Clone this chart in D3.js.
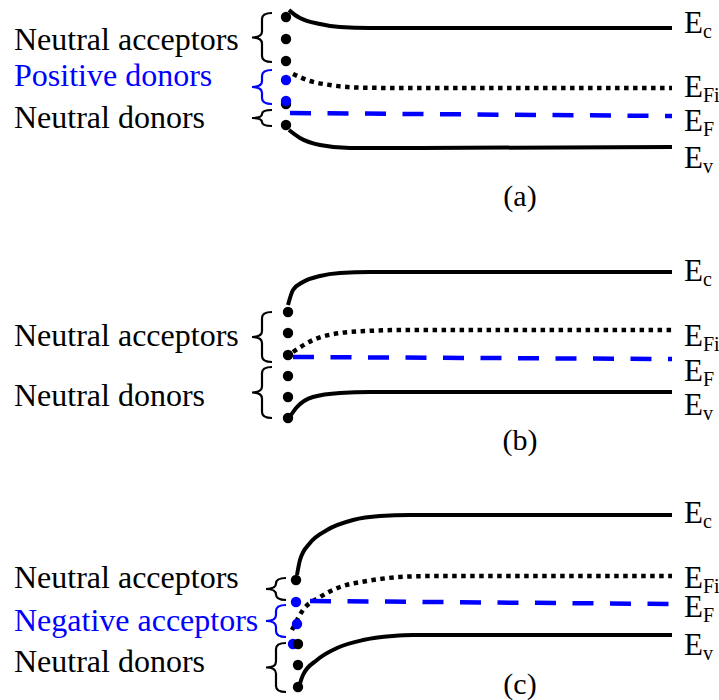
<!DOCTYPE html>
<html>
<head>
<meta charset="utf-8">
<script src="https://cdn.jsdelivr.net/npm/d3@7"></script>
<style>
  body { margin: 0; background: #fff; }
  svg { display: block; }
  text { font-family: "Liberation Serif", "Times New Roman", serif; }
</style>
</head>
<body>
<svg id="svg"></svg>
<script>
// Global variables
let svg = d3.select("#svg");
const width = 719;
const height = 700;

const blue = "#0000ff";

// panel captions and where each panel starts (pixel offset of its energy axis)
const panelNames = ["(a)", "(b)", "(c)"];
const panelTops = [0, 244, 488];

// band names (subscripts of E)
const bandNames = ["c", "Fi", "F", "v"];

// band curves: [depth, energy offset] for each panel, in order Ec, EFi, EF, Ev
const bandsA = [
    [[3, 10], [9, 15], [14, 18], [34, 24], [54, 27], [84, 28], [386, 28]],
    [[7, 74], [24, 81], [44, 85], [71, 87.5], [114, 88], [386, 88]],
    [[4, 113], [386, 116]],
    [[3, 130], [14, 138], [34, 145], [64, 148], [84, 148], [386, 147]]
];
const bandsB = [
    [[2, 61], [7, 46], [17, 38], [34, 32], [54, 29], [84, 28], [386, 28]],
    [[7, 108], [27, 96], [54, 89], [81, 87], [114, 86], [386, 86]],
    [[7, 113], [386, 115]],
    [[3, 174], [11, 163], [27, 153], [54, 149], [84, 148], [386, 148]]
];
const bandsC = [
    [[11, 87], [14, 72], [24, 55], [41, 42], [67, 32], [94, 28], [124, 27], [386, 27]],
    [[6, 142], [17, 122], [34, 109], [54, 99], [81, 93], [114, 89], [147, 88], [386, 88]],
    [[24, 113], [386, 116]],
    [[12, 202], [17, 187], [31, 172], [51, 160], [77, 152], [107, 148], [127, 147], [386, 147]]
];

// right-hand label baselines (energy offset) for each panel
const bandLabelY = [
    [33, 97, 131, 168],
    [37, 102, 137, 171],
    [35, 100, 129, 167]
];

// surface states: [depth, energy offset, charged?]
const dotsA = [[0, 17, 0], [0, 39, 0], [0, 61, 0], [0, 104, 0], [0, 80, 1], [0, 101, 1], [0, 125, 0]];
const dotsB = [[2, 68, 0], [2, 89, 0], [2, 111, 0], [2, 132, 0], [2, 153, 0], [2, 174, 0]];
const dotsC = [[10, 92, 0], [10, 114, 1], [11, 136, 1], [7, 156, 1], [12, 156, 0], [12, 177, 0], [12, 199, 0]];

// state groups: [label, charged?, brace top, brace bottom, label baseline]
const groupsA = [
    ["Neutral acceptors", 0, 13, 62, 50],
    ["Positive donors", 1, 70, 104, 86],
    ["Neutral donors", 0, 110, 126, 128]
];
const groupsB = [
    ["Neutral acceptors", 0, 68, 118, 102],
    ["Neutral donors", 0, 123, 174, 162]
];
const groupsC = [
    ["Neutral acceptors", 0, 90, 112, 100],
    ["Negative acceptors", 1, 117, 149, 143],
    ["Neutral donors", 0, 155, 204, 184]
];

const allBands = [bandsA, bandsB, bandsC];
const allDots = [dotsA, dotsB, dotsC];
const allGroups = [groupsA, groupsB, groupsC];

// brace tip x for each panel (the curly bracket points left to the label)
const braceTip = [252, 252, 266];

// depth scale: surface at the left, bulk to the right
let x = d3.scaleLinear()
    .domain([0, 386])
    .range([286, 672]);

svg.attr("width", width).attr("height", height);

svg.append("rect")
    .attr("width", width)
    .attr("height", height)
    .attr("fill", "#fff");

// draws a curly brace from top to bottom, pointing left to tip
function bracePath(tip, end, top, bottom) {
    const spine = (tip + end) / 2;
    const mid = (top + bottom) / 2;
    const r = Math.min(6, (bottom - top) / 4);
    return "M" + end + "," + top +
        " Q" + spine + "," + top + " " + spine + "," + (top + r) +
        " L" + spine + "," + (mid - r) +
        " Q" + spine + "," + mid + " " + tip + "," + mid +
        " Q" + spine + "," + mid + " " + spine + "," + (mid + r) +
        " L" + spine + "," + (bottom - r) +
        " Q" + spine + "," + bottom + " " + end + "," + bottom;
}

function drawPanel(i) {
    const top = panelTops[i];

    // energy scale for this panel
    let y = d3.scaleLinear()
        .domain([0, 200])
        .range([top, top + 200]);

    let g = svg.append("g").attr("class", "panel");

    const line = d3.line()
        .x(d => x(d[0]))
        .y(d => y(d[1]))
        .curve(d3.curveMonotoneX);

    const styles = [
        { stroke: "#000", dash: null, w: 4 },
        { stroke: "#000", dash: "4.5,4.5", w: 4.5 },
        { stroke: blue, dash: "21,16.5", w: 4.5 },
        { stroke: "#000", dash: null, w: 4 }
    ];

    allBands[i].forEach((band, k) => {
        g.append("path")
            .datum(band)
            .attr("d", line)
            .attr("fill", "none")
            .attr("stroke", styles[k].stroke)
            .attr("stroke-width", styles[k].w)
            .attr("stroke-dasharray", styles[k].dash);

        // E label with subscript on the right
        let t = g.append("text")
            .attr("x", 684)
            .attr("y", y(bandLabelY[i][k]))
            .style("font-size", "31px")
            .text("E");
        t.append("tspan")
            .attr("dy", 5)
            .style("font-size", "20px")
            .text(bandNames[k]);
    });

    // surface state dots
    g.selectAll("circle")
        .data(allDots[i])
        .enter()
        .append("circle")
        .attr("cx", d => x(d[0]))
        .attr("cy", d => y(d[1]))
        .attr("r", 5.2)
        .attr("fill", d => d[2] ? blue : "#000");

    // braces and labels
    allGroups[i].forEach(grp => {
        const col = grp[1] ? blue : "#000";
        g.append("path")
            .attr("d", bracePath(braceTip[i], braceTip[i] + 20, y(grp[2]), y(grp[3])))
            .attr("fill", "none")
            .attr("stroke", col)
            .attr("stroke-width", 2.2);
        g.append("text")
            .attr("x", 14)
            .attr("y", y(grp[4]))
            .style("font-size", "32px")
            .attr("fill", col)
            .text(grp[0]);
    });

    // panel caption
    g.append("text")
        .attr("x", 520)
        .attr("y", top + 206)
        .attr("text-anchor", "middle")
        .style("font-size", "30px")
        .text(panelNames[i]);
}

panelNames.forEach((p, i) => drawPanel(i));
</script>
</body>
</html>
